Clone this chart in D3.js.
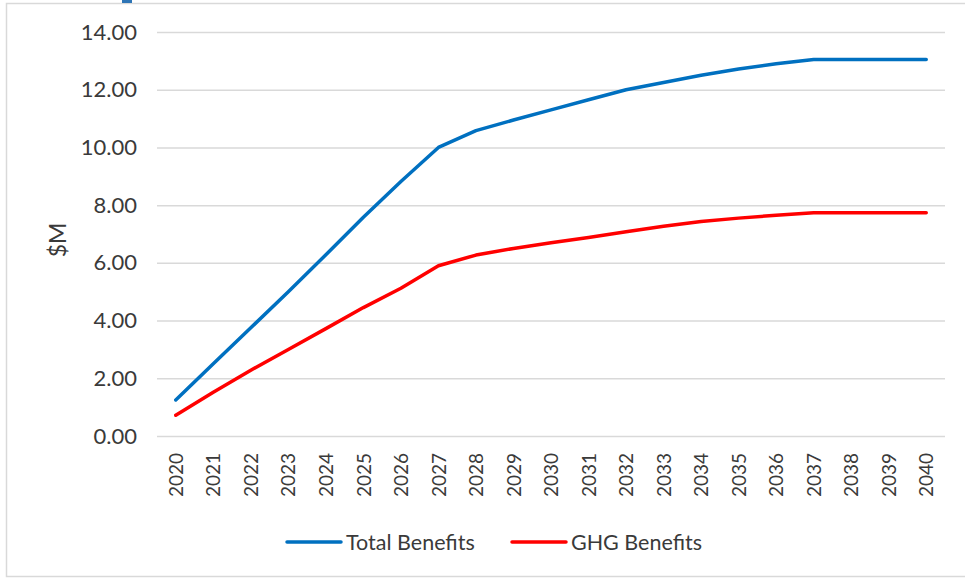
<!DOCTYPE html>
<html>
<head>
<meta charset="utf-8">
<script src="https://cdn.jsdelivr.net/npm/d3@7"></script>
<style>
  body { margin: 0; background: #fff; }
  text { font-family: Lato, "Open Sans", sans-serif; fill: #3a3a3a; }
</style>
</head>
<body>
<svg id="chart" width="965" height="579"></svg>
<script>
const years = d3.range(2020, 2041).map(String);
const totalBenefits = [1.25, 2.5, 3.75, 5.0, 6.28, 7.58, 8.82, 10.0, 10.58, 10.95, 11.3,
    11.65, 12.0, 12.25, 12.5, 12.72, 12.9, 13.05, 13.05, 13.05, 13.05];
const ghgBenefits = [0.72, 1.52, 2.28, 3.0, 3.72, 4.45, 5.12, 5.9, 6.27, 6.5, 6.7,
    6.88, 7.08, 7.27, 7.43, 7.55, 7.65, 7.74, 7.74, 7.74, 7.74];
const yTicks = [0, 2, 4, 6, 8, 10, 12, 14];
const seriesNames = ["Total Benefits", "GHG Benefits"];
const seriesColors = ["#0070c0", "#ff0000"];

const svg = d3.select("#chart");
const margin = {left: 157, right: 20, top: 32, bottom: 143};

// outer frame of the chart object
svg.append("rect")
    .attr("x", 6.5).attr("y", 3.5)
    .attr("width", 970).attr("height", 573)
    .attr("fill", "none")
    .attr("stroke", "#d9d9d9")
    .attr("stroke-width", 1.5);

// fragment of something above the chart
svg.append("rect")
    .attr("x", 122).attr("y", 0)
    .attr("width", 10).attr("height", 3)
    .attr("fill", "#2e75b6");

const x = d3.scalePoint()
    .domain(years)
    .range([margin.left, 945])
    .padding(0.5);

const y = d3.scaleLinear()
    .domain([0, 14])
    .range([436, 32]);

// gridlines + y labels
const yAxis = svg.append("g")
    .attr("transform", `translate(${margin.left},0)`)
    .call(d3.axisLeft(y)
        .tickValues(yTicks)
        .tickSize(-(945 - margin.left))
        .tickPadding(20)
        .tickFormat(d3.format(".2f")));
yAxis.select(".domain").remove();
yAxis.selectAll(".tick line")
    .attr("stroke", "#d9d9d9")
    .attr("stroke-width", 1.5);
yAxis.selectAll(".tick text")
    .style("font-size", "22px")
    .style("font-family", "Lato, sans-serif")
    .attr("fill", "#3a3a3a");

// x labels, rotated
const xAxis = svg.append("g")
    .attr("transform", `translate(0,436)`)
    .call(d3.axisBottom(x).tickSize(0).tickPadding(0));
xAxis.select(".domain").remove();
xAxis.selectAll(".tick text")
    .style("font-size", "19px")
    .style("font-family", "Lato, sans-serif")
    .attr("fill", "#3a3a3a")
    .attr("text-anchor", "end")
    .attr("dy", "0.35em")
    .attr("transform", "translate(0,17) rotate(-90)");

// y axis title
svg.append("text")
    .attr("transform", "translate(58,240) rotate(-90)")
    .attr("text-anchor", "middle")
    .attr("dy", "0.35em")
    .style("font-size", "23px")
    .text("$M");

const line = d3.line()
    .x((d, i) => x(years[i]))
    .y(d => y(d));

[totalBenefits, ghgBenefits].forEach((series, k) => {
    svg.append("path")
        .datum(series)
        .attr("d", line)
        .attr("fill", "none")
        .attr("stroke", seriesColors[k])
        .attr("stroke-width", 3.5)
        .attr("stroke-linecap", "round")
        .attr("stroke-linejoin", "round");
});

// legend
const legendX = [287, 512];
const legend = svg.append("g");
seriesNames.forEach((name, k) => {
    legend.append("line")
        .attr("x1", legendX[k]).attr("x2", legendX[k] + 54)
        .attr("y1", 542).attr("y2", 542)
        .attr("stroke", seriesColors[k])
        .attr("stroke-width", 3.5)
        .attr("stroke-linecap", "round");
    legend.append("text")
        .attr("x", legendX[k] + 59)
        .attr("y", 542)
        .attr("dy", "0.35em")
        .style("font-size", "21.5px")
        .text(name);
});
</script>
</body>
</html>
